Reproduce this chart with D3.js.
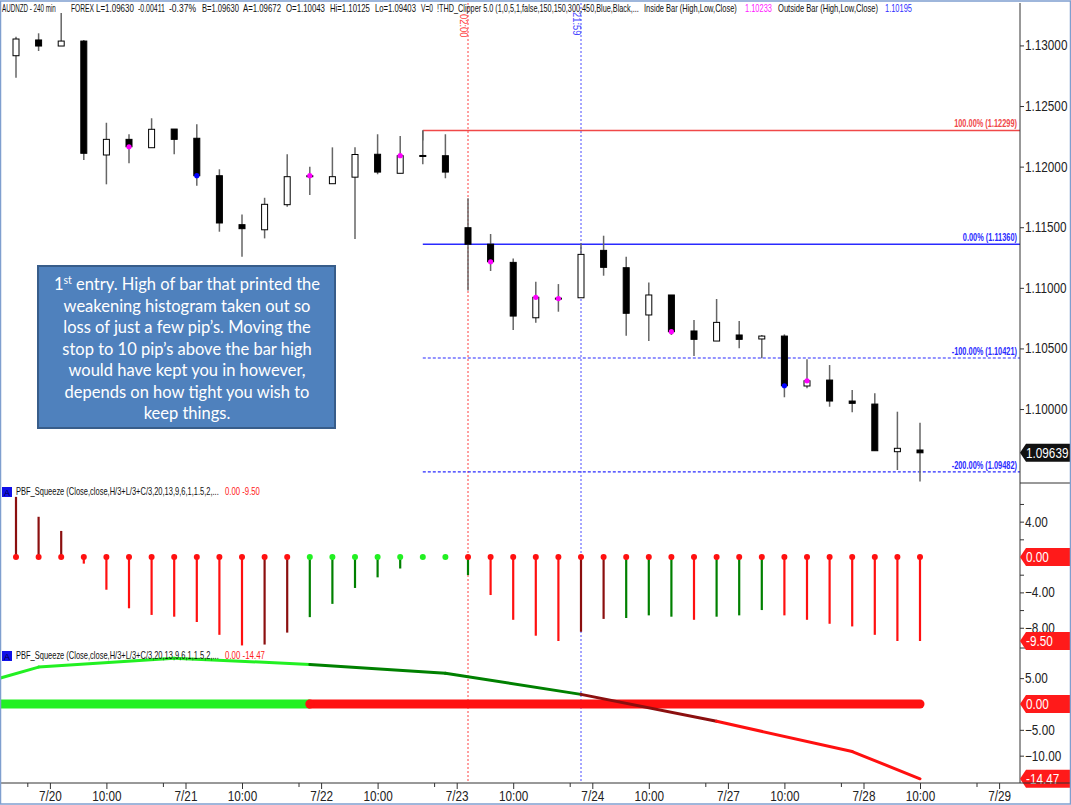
<!DOCTYPE html>
<html>
<head>
<meta charset="utf-8">
<script src="https://d3js.org/d3.v7.min.js"></script>
<style>
  body { margin: 0; background: #fff; }
  svg { display: block; font-family: "Liberation Sans", Arial, sans-serif; }
</style>
</head>
<body>
<div id="app"></div>
<script>
// AUDNZD 240 min bars, index 0..40
const opens  = [1.12915,1.13045,1.12995,1.13036,1.12096,1.12225,1.12156,1.12310,1.12234,1.11925,1.11521,1.11479,1.11686,1.11920,1.11859,1.11913,1.12102,1.11945,1.12092,1.12090,1.11496,1.11360,1.11210,1.10753,1.10915,1.10918,1.11309,1.11166,1.10776,1.10941,1.10644,1.10561,1.10611,1.10578,1.10602,1.10190,1.10239,1.10066,1.10041,1.09648,1.09662];
const highs  = [1.13072,1.13100,1.13267,1.13045,1.12362,1.12267,1.12399,1.12310,1.12349,1.11978,1.11606,1.11743,1.12102,1.11999,1.12159,1.12159,1.12267,1.12253,1.12299,1.12267,1.11739,1.11444,1.11243,1.11050,1.11031,1.11367,1.11430,1.11257,1.11045,1.10941,1.10734,1.10908,1.10726,1.10611,1.10616,1.10410,1.10363,1.10157,1.10130,1.09978,1.09887];
const lows   = [1.12734,1.12954,1.12995,1.12054,1.11854,1.12027,1.12156,1.12102,1.11842,1.11463,1.11257,1.11408,1.11669,1.11766,1.11859,1.11403,1.11937,1.11945,1.12019,1.11904,1.10979,1.11139,1.10652,1.10712,1.10803,1.10918,1.11100,1.10605,1.10561,1.10611,1.10437,1.10561,1.10501,1.10418,1.10097,1.10171,1.10019,1.09973,1.09656,1.09497,1.09403];
const closes = [1.13053,1.12995,1.13036,1.12110,1.12225,1.12164,1.12308,1.12225,1.11925,1.11535,1.11488,1.11689,1.11917,1.11925,1.11917,1.12100,1.11955,1.12090,1.12088,1.11955,1.11360,1.11215,1.10767,1.10922,1.10911,1.11276,1.11169,1.10790,1.10941,1.10638,1.10575,1.10715,1.10575,1.10602,1.10192,1.10233,1.10066,1.10047,1.09656,1.09676,1.09639];

const insideBars = [5, 13, 17, 21, 23, 24, 29, 35];
const outsideBars = [8, 34];

const priceTicks = [1.10, 1.105, 1.11, 1.115, 1.12, 1.125, 1.13];
const lastPrice = 1.09639;

const fibStart = 18;
const fibLevels = [1.12299, 1.11360, 1.10421, 1.09482];
const fibNames = ["100.00%", "0.00%", "-100.00%", "-200.00%"];

const markerBars = [20, 25];
const markerNames = ["02:00", "21:59"];

// squeeze histogram
const histValues = [6.8,4.55,2.95,-0.75,-3.7,-5.8,-6.55,-6.75,-7.35,-8.8,-10.0,-9.9,-8.55,-6.8,-5.3,-3.5,-2.3,-1.3,0,0,-2.05,-4.3,-7.1,-8.9,-9.5,-8.45,-7.0,-6.9,-6.6,-6.75,-7.1,-6.75,-6.6,-6.0,-6.6,-7.1,-7.55,-7.85,-8.8,-9.5,-9.5];
const histState  = "DDDRRRRRRRRDDGGGGGGGGRRRRDDGGGRGGGRRRRRRR"; // D dark red, R red, G green
const dotState   = "RRRRRRRRRRRRRGGGGGGGRRRRRRRRRRRRRRRRRRRRR";
const histTicks = [4, -4, -8];
const histMinor = [6, 2, -2, -6];

// squeeze momentum line
const momBars = [-5, 1, 7, 13, 19, 25, 31, 37, 40];
const momValues = [-0.4, 7.14, 8.86, 7.66, 5.94, 1.86, -3.35, -9.2, -14.47];
const momSegColor = ["L", "L", "L", "G", "G", "D", "R", "R"];
const zeroBreak = 13;
const momTicks = [5, -5, -10];

const xTickBars = [1.5, 4, 7.5, 10, 13.5, 16, 19.5, 22, 25.5, 28, 31.5, 34, 37.5, 40, 43.5];
const xTickLabels = ["7/20","10:00","7/21","10:00","7/22","10:00","7/23","10:00","7/24","10:00","7/27","10:00","7/28","10:00","7/29"];
const xMinorBars = [0.5, 6.5, 12.5, 18.5, 24.5, 30.5, 36.5, 42.5];

const headerTexts = ["AUDNZD - 240 min", "FOREX", "L=1.09630", "-0.00411", "-0.37%", "B=1.09630", "A=1.09672", "O=1.10043",
  "Hi=1.10125", "Lo=1.09403", "V=0", "!THD_Clipper 5.0 (1,0,5,1,false,150,150,300,450,Blue,Black,...",
  "Inside Bar (High,Low,Close)", "1.10233", "Outside Bar (High,Low,Close)", "1.10195"];

const noteLines = ["entry. High of bar that printed the", "weakening histogram taken out so", "loss of just a few pip\u2019s. Moving the", "stop to 10 pip\u2019s above the bar high", "would have kept you in however,", "depends on how tight you wish to", "keep things."];

const W = 1071, H = 805, axisX = 1020, bottomY = 783;
const colors = { D: "#8b0f0f", R: "#ff1010", G: "#008000", L: "#22f022" };

// squeeze text horizontally with a transform (no narrow font installed)
function narrow(sel, f) {
  sel.each(function () {
    const t = d3.select(this);
    const x0 = +t.attr("x") || 0;
    const tr = t.attr("transform") || "";
    t.attr("x", x0 / f).attr("transform", `${tr} scale(${f},1)`);
  });
}
function fitWidth(sel, w) {
  sel.each(function () {
    narrow(d3.select(this), w / this.getComputedTextLength());
  });
}

const svg = d3.select("#app").append("svg").attr("width", W).attr("height", H);

svg.append("defs").append("clipPath").attr("id", "plot")
  .append("rect").attr("x", 0).attr("y", 0).attr("width", axisX).attr("height", bottomY);

const x = d3.scaleLinear().domain([0, 40]).range([16, 920]);
const yP = d3.scaleLinear().domain([1.09398, 1.13350]).range([482, 3]);
const yH = d3.scaleLinear().domain([-10.29, 8.37]).range([648, 483]);
const yM = d3.scaleLinear().domain([-15.09, 10.83]).range([782, 648]);

const plot = svg.append("g").attr("clip-path", "url(#plot)");

// vertical markers
markerBars.forEach((b, k) => {
  const c = k === 0 ? "#ff4040" : "#4a4aff";
  plot.append("line").attr("x1", x(b)).attr("x2", x(b)).attr("y1", 3).attr("y2", bottomY)
    .attr("stroke", c).attr("stroke-width", 1).attr("stroke-dasharray", "2,2");
  svg.append("text").attr("transform", `translate(${x(b) - 8},${k === 0 ? 14 : 12}) rotate(90)`)
    .attr("font-size", 11).attr("fill", c).text(markerNames[k]).call(narrow, 0.85);
});

// fib lines
fibLevels.forEach((v, k) => {
  const c = k === 0 ? "#f04848" : "#2a2aff";
  plot.append("line").attr("x1", x(fibStart)).attr("x2", axisX).attr("y1", yP(v)).attr("y2", yP(v))
    .attr("stroke", c).attr("stroke-width", k < 2 ? 1.5 : 1.2)
    .attr("stroke-dasharray", k < 2 ? null : "3,2");
  svg.append("text").attr("x", axisX - 3).attr("y", yP(v) - 3).attr("text-anchor", "end")
    .attr("font-size", 10).attr("font-weight", "bold").attr("fill", c)
    .text(`${fibNames[k]} (${v.toFixed(5)})`).call(narrow, 0.74);
});
plot.append("line").attr("x1", x(fibStart)).attr("x2", x(fibStart))
  .attr("y1", yP(fibLevels[0])).attr("y2", yP(highs[fibStart]) + 10)
  .attr("stroke", "#666").attr("stroke-width", 1.5);

// candles
const bars = d3.range(opens.length);
const candles = plot.append("g").selectAll("g").data(bars).enter().append("g");
candles.append("line")
  .attr("x1", i => x(i)).attr("x2", i => x(i))
  .attr("y1", i => yP(highs[i])).attr("y2", i => yP(lows[i]))
  .attr("stroke", "#666").attr("stroke-width", 1.5);
candles.append("rect")
  .attr("x", i => x(i) - 3).attr("width", 6)
  .attr("y", i => yP(Math.max(opens[i], closes[i])))
  .attr("height", i => Math.max(1, Math.abs(yP(opens[i]) - yP(closes[i]))))
  .attr("fill", i => closes[i] >= opens[i] ? "#fff" : "#000")
  .attr("stroke", "#000").attr("stroke-width", 1);

plot.selectAll(".ins").data(insideBars).enter().append("circle")
  .attr("cx", i => x(i)).attr("cy", i => yP(closes[i])).attr("r", 2.6).attr("fill", "#ff00ff");
plot.selectAll(".outs").data(outsideBars).enter().append("circle")
  .attr("cx", i => x(i)).attr("cy", i => yP(closes[i])).attr("r", 2.6).attr("fill", "#0000ff");

// histogram panel
plot.append("g").selectAll("line").data(bars).enter().append("line")
  .attr("x1", i => x(i)).attr("x2", i => x(i))
  .attr("y1", yH(0)).attr("y2", i => yH(histValues[i]))
  .attr("stroke", i => colors[histState[i]]).attr("stroke-width", 2.2);
plot.append("g").selectAll("circle").data(bars).enter().append("circle")
  .attr("cx", i => x(i)).attr("cy", yH(0)).attr("r", 3)
  .attr("fill", i => dotState[i] === "G" ? colors.L : colors.R);

// momentum panel
plot.append("line").attr("x1", x(zeroBreak)).attr("x2", x(40)).attr("y1", yM(0)).attr("y2", yM(0))
  .attr("stroke", colors.R).attr("stroke-width", 9).attr("stroke-linecap", "round");
plot.append("line").attr("x1", -10).attr("x2", x(zeroBreak)).attr("y1", yM(0)).attr("y2", yM(0))
  .attr("stroke", colors.L).attr("stroke-width", 9);
plot.append("circle").attr("cx", x(zeroBreak)).attr("cy", yM(0)).attr("r", 4.5).attr("fill", colors.R);
d3.range(momBars.length - 1).forEach(k => {
  plot.append("line")
    .attr("x1", x(momBars[k])).attr("y1", yM(momValues[k]))
    .attr("x2", x(momBars[k + 1])).attr("y2", yM(momValues[k + 1]))
    .attr("stroke", colors[momSegColor[k]]).attr("stroke-width", 3).attr("stroke-linecap", "round");
});

// annotation
const note = svg.append("g");
note.append("rect").attr("x", 38).attr("y", 266).attr("width", 297).attr("height", 162)
  .attr("fill", "#4f81bd").attr("stroke", "#385d8a").attr("stroke-width", 2);
noteLines.forEach((t, k) => {
  const tx = note.append("text").attr("x", 187).attr("y", 290 + k * 21.5)
    .attr("text-anchor", "middle").attr("fill", "#fff")
    .style("font-family", "Lato, 'Open Sans', sans-serif").attr("font-size", 16.5);
  if (k === 0) {
    tx.append("tspan").text("1");
    tx.append("tspan").attr("dy", -6).attr("font-size", 10.5).text("st");
    tx.append("tspan").attr("dy", 6).text(" " + t);
  } else tx.text(t);
});

// right axes
const axisStyle = g => {
  g.select(".domain").remove();
  g.selectAll("line").attr("stroke", "#333");
  g.selectAll("text").attr("fill", "#222").attr("font-size", 14).call(narrow, 0.84);
};
svg.append("line").attr("x1", axisX).attr("x2", axisX).attr("y1", 3).attr("y2", bottomY).attr("stroke", "#333");
svg.append("g").attr("transform", `translate(${axisX},0)`)
  .call(d3.axisRight(yP).tickValues(priceTicks).tickFormat(d3.format(".5f")).tickSize(4).tickPadding(1))
  .call(axisStyle);
svg.append("g").attr("transform", `translate(${axisX},0)`)
  .call(d3.axisRight(yH).tickValues(histTicks).tickFormat(d3.format(".2f")).tickSize(4).tickPadding(1))
  .call(axisStyle);
svg.append("g").attr("transform", `translate(${axisX},0)`)
  .call(d3.axisRight(yH).tickValues(histMinor).tickFormat("").tickSize(4))
  .call(axisStyle);
svg.append("g").attr("transform", `translate(${axisX},0)`)
  .call(d3.axisRight(yM).tickValues(momTicks).tickFormat(d3.format(".2f")).tickSize(4).tickPadding(1))
  .call(axisStyle);

[483, 648].forEach(yy => svg.append("line").attr("x1", axisX).attr("x2", W).attr("y1", yy).attr("y2", yy).attr("stroke", "#333"));

function tag(y, label, fill) {
  svg.append("path")
    .attr("d", `M${axisX},${y} L${axisX + 6},${y - 9} L${W},${y - 9} L${W},${y + 9} L${axisX + 6},${y + 9} Z`)
    .attr("fill", fill);
  svg.append("text").attr("x", axisX + 6).attr("y", y + 5).attr("fill", "#fff")
    .attr("font-size", 14).text(label).call(narrow, 0.84);
}
tag(yP(lastPrice), lastPrice.toFixed(5), "#111");
tag(yH(0), "0.00", "#ff1a1a");
tag(yH(histValues[40]), histValues[40].toFixed(2), "#ff1a1a");
tag(yM(0), "0.00", "#ff1a1a");
tag(yM(momValues[momValues.length - 1]), momValues[momValues.length - 1].toFixed(2), "#ff1a1a");

// x axis
svg.append("line").attr("x1", 0).attr("x2", W).attr("y1", bottomY).attr("y2", bottomY).attr("stroke", "#333");
svg.append("g").attr("transform", `translate(0,${bottomY})`)
  .call(d3.axisBottom(x).tickValues(xTickBars).tickFormat((d, k) => xTickLabels[k]).tickSize(6).tickPadding(2))
  .call(axisStyle);
svg.append("g").attr("transform", `translate(0,${bottomY})`)
  .call(d3.axisBottom(x).tickValues(xMinorBars).tickFormat("").tickSize(4))
  .call(axisStyle);

// chart header: each piece squeezed into the width it takes in the original
const headerX = [2, 71, 96, 138, 169, 202, 243, 286, 330, 375, 421, 437, 644, 745, 778, 885];
const headerW = [54, 23, 38, 27, 27, 37, 38, 39, 40, 41, 12, 202, 93, 27, 100, 27];
headerTexts.forEach((t, k) => {
  svg.append("text").attr("x", headerX[k]).attr("y", 12).attr("font-size", 10.5)
    .attr("fill", k === 13 ? "#ff20ff" : k === 15 ? "#3030ff" : "#111")
    .text(t).call(fitWidth, headerW[k]);
});

// indicator headers
[[487, "0.00  -9.50", 35], [651, "0.00  -14.47", 40]].forEach(([yy, vals, vw]) => {
  svg.append("rect").attr("x", 2).attr("y", yy).attr("width", 10).attr("height", 10).attr("fill", "#1010e8");
  svg.append("text").attr("x", 4).attr("y", yy + 8.5).attr("font-size", 9).attr("fill", "#000040").text("A");
  svg.append("text").attr("x", 16).attr("y", yy + 8.5).attr("font-size", 10).attr("fill", "#111")
    .text("PBF_Squeeze (Close,close,H/3+L/3+C/3,20,13,9,6,1,1.5,2,...").call(fitWidth, 203);
  svg.append("text").attr("x", 225).attr("y", yy + 8.5).attr("font-size", 10).attr("fill", "#ff2020")
    .text(vals).call(fitWidth, vw);
});

// frame
svg.append("rect").attr("x", 0.5).attr("y", 1).attr("width", W - 1).attr("height", H - 2)
  .attr("fill", "none").attr("stroke", "#7f9fcf").attr("stroke-width", 1.5);
</script>
</body>
</html>
